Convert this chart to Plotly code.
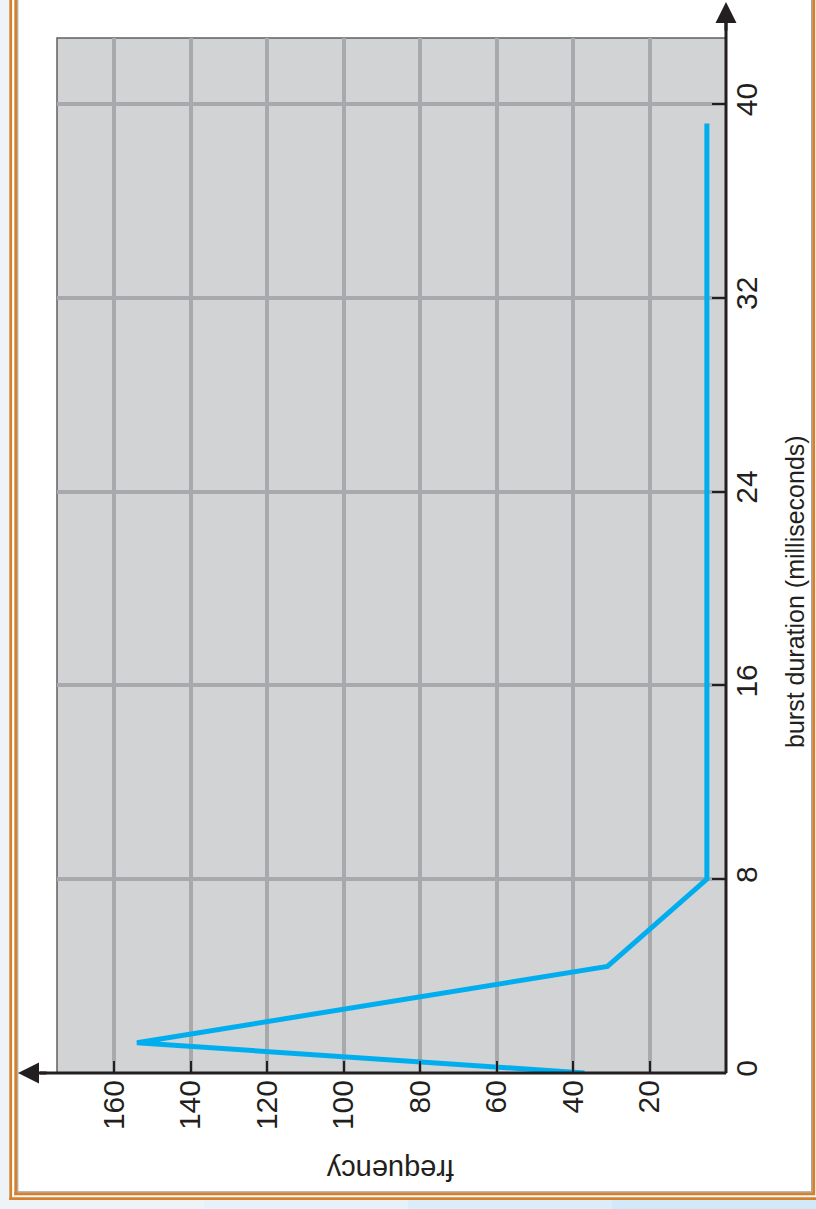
import plotly.graph_objects as go

# ---- data ----
burst_ms = [0, 1.25, 4.4, 8, 39.2]
frequency = [37, 154, 31, 5, 5]

freq_ticks = [20, 40, 60, 80, 100, 120, 140, 160]
burst_ticks = [0, 8, 16, 24, 32, 40]

x_title = "burst duration (milliseconds)"
y_title = "frequency"

# ---- geometry ----
W, H = 816, 1209
L, R, T, B = 57, 726, 38, 1073  # plot area in pixels
PW, PH = R - L, B - T

def px(x):
    return (x - L) / PW

def py(y):
    return (B - y) / PH

FONT = "Liberation Sans, Arial, Helvetica, sans-serif"
INK = "#231f20"
ORANGE = "#d4802c"

fig = go.Figure()
fig.add_trace(go.Scatter(
    x=frequency, y=burst_ms, mode="lines",
    line=dict(color="#00aeef", width=5),
    cliponaxis=True, showlegend=False, hoverinfo="skip"))

shapes = []
# page frame
shapes.append(dict(type="rect", xref="paper", yref="paper", x0=px(0), x1=px(9.3), y0=py(0), y1=py(H),
                   fillcolor="#eef3f8", line=dict(width=0), layer="below"))
bottom_cols = ["#eef3f8", "#e6f1fa", "#dcedfa", "#d2e9f9"]
seg = W / len(bottom_cols)
for i, c in enumerate(bottom_cols):
    shapes.append(dict(type="rect", xref="paper", yref="paper", x0=px(i * seg), x1=px((i + 1) * seg + 1),
                       y0=py(1200), y1=py(H), fillcolor=c, line=dict(width=0), layer="below"))
shapes.append(dict(type="rect", xref="paper", yref="paper", x0=px(12), x1=px(W), y0=py(1195), y1=py(1197.3),
                   fillcolor="#f4f8fc", line=dict(width=0), layer="below"))
# outer orange lines
shapes.append(dict(type="line", xref="paper", yref="paper", x0=px(10.7), x1=px(10.7), y0=py(0), y1=py(1200),
                   line=dict(color=ORANGE, width=2.8)))
shapes.append(dict(type="line", xref="paper", yref="paper", x0=px(9.3), x1=px(W), y0=py(1198.7), y1=py(1198.7),
                   line=dict(color=ORANGE, width=2.8)))
# inner orange lines
shapes.append(dict(type="line", xref="paper", yref="paper", x0=px(15.8), x1=px(15.8), y0=py(0), y1=py(1195),
                   line=dict(color=ORANGE, width=3)))
shapes.append(dict(type="line", xref="paper", yref="paper", x0=px(14.3), x1=px(815), y0=py(1193.7), y1=py(1193.7),
                   line=dict(color=ORANGE, width=3)))
shapes.append(dict(type="line", xref="paper", yref="paper", x0=px(813.7), x1=px(813.7), y0=py(0), y1=py(1195),
                   line=dict(color=ORANGE, width=3)))
# thin gray inner lines
shapes.append(dict(type="line", xref="paper", yref="paper", x0=px(17.8), x1=px(17.8), y0=py(0), y1=py(1191.8),
                   line=dict(color="#9a9a9a", width=1)))
shapes.append(dict(type="line", xref="paper", yref="paper", x0=px(17.8), x1=px(811.6), y0=py(1191.8), y1=py(1191.8),
                   line=dict(color="#9a9a9a", width=1)))
shapes.append(dict(type="line", xref="paper", yref="paper", x0=px(811.6), x1=px(811.6), y0=py(0), y1=py(1191.8),
                   line=dict(color="#9a9a9a", width=1)))
# plot area border (thin)
shapes.append(dict(type="rect", xref="paper", yref="paper", x0=0, x1=1, y0=0, y1=1,
                   line=dict(color="#606062", width=1.5), layer="below"))
# main axis lines (black, on top)
shapes.append(dict(type="line", xref="paper", yref="paper", x0=px(40), x1=1.0, y0=0, y1=0,
                   line=dict(color=INK, width=3), layer="above"))
shapes.append(dict(type="line", xref="paper", yref="paper", x0=1.0, x1=1.0, y0=0, y1=py(20),
                   line=dict(color=INK, width=3), layer="above"))

annotations = [
    dict(text=x_title, xref="paper", yref="paper", x=px(795), y=py(592), textangle=-90,
         showarrow=False, xanchor="center", yanchor="middle",
         font=dict(family=FONT, size=25, color=INK)),
    dict(text=y_title, xref="paper", yref="paper", x=px(390), y=py(1170), textangle=180,
         showarrow=False, xanchor="center", yanchor="middle",
         font=dict(family=FONT, size=29, color=INK)),
    # axis arrows
    dict(text="", xref="paper", yref="paper", x=px(R), y=py(2), ax=0, ay=30,
         showarrow=True, arrowhead=2, arrowsize=1.4, arrowwidth=3, arrowcolor=INK, standoff=0),
    dict(text="", xref="paper", yref="paper", x=px(18), y=py(B), ax=30, ay=0,
         showarrow=True, arrowhead=2, arrowsize=1.4, arrowwidth=3, arrowcolor=INK, standoff=0),
]

fig.update_layout(
    width=W, height=H,
    margin=dict(l=L, r=W - R, t=T, b=H - B, pad=0),
    paper_bgcolor="white", plot_bgcolor="#d1d3d4",
    showlegend=False,
    shapes=shapes, annotations=annotations,
    xaxis=dict(range=[PW / 3.825, 0], tickvals=freq_ticks, ticktext=[str(v) for v in freq_ticks],
               ticks="inside", ticklen=12, tickwidth=1.5, tickcolor=INK,
               showgrid=True, gridcolor="#a7a9ac", gridwidth=4, zeroline=False,
               showline=False,
               tickangle=-90, tickfont=dict(family=FONT, size=30, color=INK)),
    yaxis=dict(range=[0, PH / 24.225], side="right", tickvals=burst_ticks,
               ticktext=[str(v) for v in burst_ticks],
               ticks="inside", ticklen=14, tickwidth=1.5, tickcolor=INK,
               showgrid=True, gridcolor="#a7a9ac", gridwidth=4, zeroline=False,
               showline=False,
               tickangle=-90, tickfont=dict(family=FONT, size=30, color=INK)),
)

fig.write_html("out.html", config={"displayModeBar": False},
               post_script="document.body.style.margin='0px';document.body.style.overflow='hidden';")
